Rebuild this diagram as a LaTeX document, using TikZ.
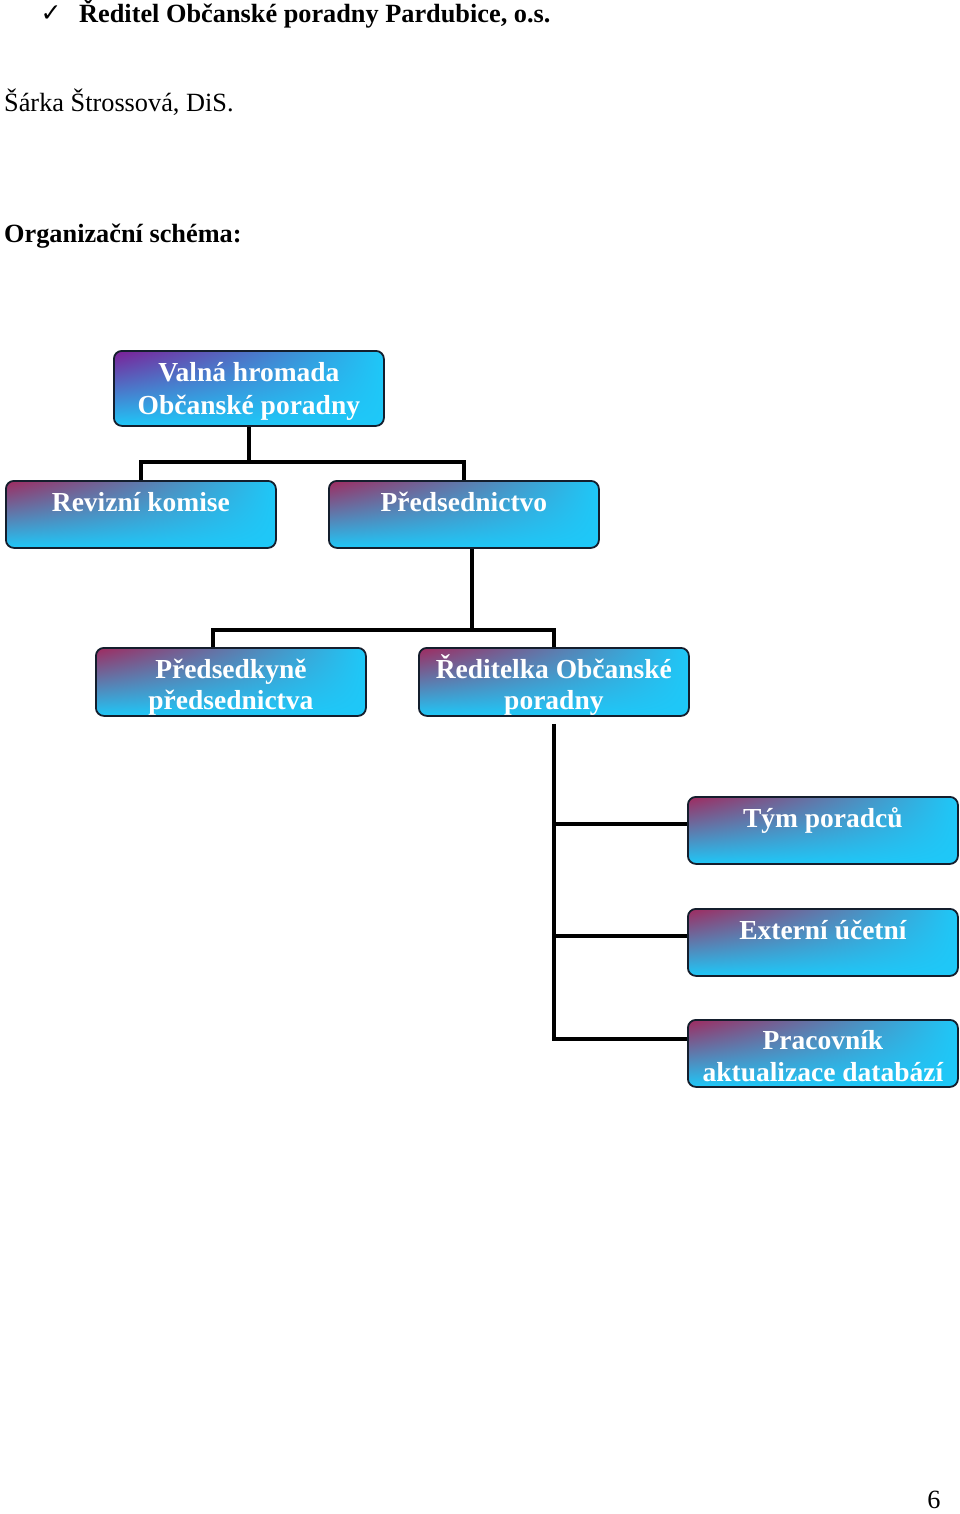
\documentclass[tikz,border=0pt]{standalone}
\usepackage{fontspec}
\setmainfont{Liberation Serif}
\newfontfamily\symbolfont{DejaVu Sans}
\usetikzlibrary{positioning, shadings}

\definecolor{boxcyan}{RGB}{30,200,248}
\definecolor{boxplum}{RGB}{160,42,95}
\definecolor{boxviolet}{RGB}{125,30,150}
\definecolor{boxedge}{RGB}{20,30,45}

\begin{document}
\begin{tikzpicture}[x=1pt, y=-1pt,
  orgbox/.style={draw=boxedge, line width=1.8pt, rounded corners=8pt, minimum width=270pt, inner xsep=0pt, inner ysep=0pt, anchor=north west, text height=31pt, font=\fontsize{27.5}{33}\selectfont\bfseries, text=white, align=center, shade, upper left=boxplum, upper right=boxcyan, lower left=boxcyan, lower right=boxcyan},
  boxlabel/.style={anchor=base, inner sep=0pt, text=white, align=center, font=\fontsize{27.5}{31}\selectfont\bfseries},
  link/.style={line width=4pt, draw=black},
  plain/.style={anchor=base west, inner sep=0pt, font=\fontsize{26.3}{30}\selectfont}
]
\fill[white] (0,0) rectangle (960,1514);
\useasboundingbox (0,0) rectangle (960,1514);

% --- Header texts ---
\node[plain, anchor=base, font=\fontsize{25}{28}\selectfont\symbolfont] (tick) at (51,22) {✓};
\node[plain, font=\fontsize{26.3}{30}\selectfont\bfseries] (headline) at (79,23) {Ředitel Občanské poradny Pardubice, o.s.};
\node[plain] (person) at (4,112) {Šárka Štrossová, DiS.};
\node[plain, font=\fontsize{26.3}{30}\selectfont\bfseries] (schema) at (4,243) {Organizační schéma:};

% --- Top levels ---
\node[orgbox, text height=64pt, text depth=11pt, upper left=boxviolet] (valna) at (113,350) {Valná hromada\\Občanské poradny};
\node[orgbox, text depth=36pt] (reviz) at (5,480) {Revizní komise};
\node[orgbox, text depth=36pt] (predn) at (328,480) {Předsednictvo};

% --- Second level (text cut by the box) ---
\node[orgbox, text depth=37pt, path picture={\node[boxlabel] (predkt) at ([yshift=-62pt]path picture bounding box.north) {Předsedkyně\\předsednictva};}] (predk) at (95,647) {};
\node[orgbox, text depth=37pt, path picture={\node[boxlabel] (reditt) at ([yshift=-62pt]path picture bounding box.north) {Ředitelka Občanské\\poradny};}] (redit) at (418,647) {};

% --- Staff ---
\node[orgbox, text depth=36pt] (tym) at (687,796) {Tým poradců};
\node[orgbox, text depth=36pt] (ucet) at (687,908) {Externí účetní};
\node[orgbox, text height=62pt, text depth=5pt, font=\fontsize{27.5}{32}\selectfont\bfseries] (prac) at (687,1019) {Pracovník\\aktualizace databází};

% --- Connectors ---
\coordinate (busA) at (0,462);
\coordinate (busB) at (0,630);
\draw[link] (valna.south) -- (valna.south |- busA);
\draw[link] (reviz.north) |- (predn.north |- busA) -- (predn.north);
\draw[link] ([xshift=8pt]predn.south) -- ([xshift=8pt]predn.south |- busB);
\draw[link] ([xshift=-18pt]predk.north) |- (redit.north |- busB) -- (redit.north);
\draw[link] ([yshift=-7pt]redit.south) |- ([yshift=14pt]prac.west);
\draw[link] ([yshift=6pt]tym.west) -- ([yshift=6pt]redit.south |- tym.west);
\draw[link] ([yshift=6pt]ucet.west) -- ([yshift=6pt]redit.south |- ucet.west);

% --- Page number ---
\node[plain, anchor=base] (pagenum) at (934,1508) {6};
\end{tikzpicture}
\end{document}
